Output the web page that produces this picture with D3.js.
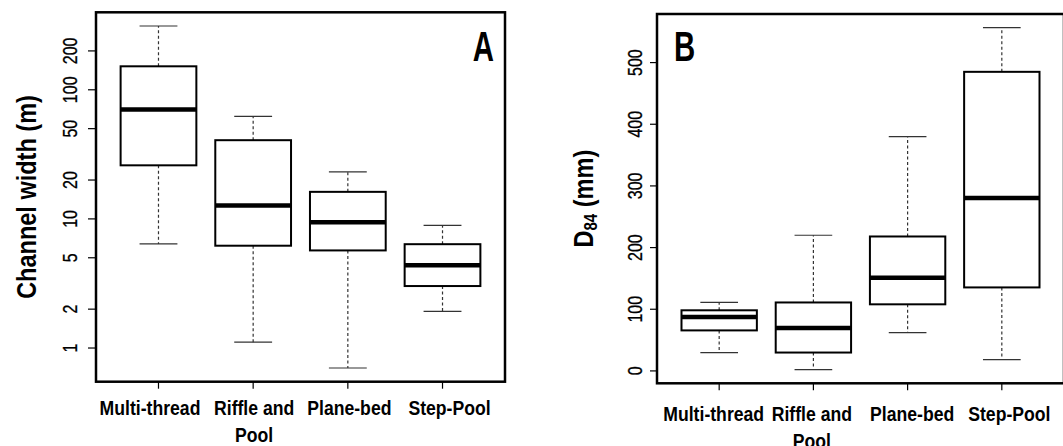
<!DOCTYPE html>
<html lang="en">
<head>
<meta charset="utf-8">
<title>Channel width and D84 by channel type</title>
<script src="https://d3js.org/d3.v7.min.js"></script>
<style>
  body { margin: 0; background: #fff; }
  text { font-family: "Liberation Sans", Arial, sans-serif; fill: #000; }
  .frame { fill: none; stroke: #000; stroke-width: 2.5px; }
  .box { fill: #fff; stroke: #000; stroke-width: 2px; }
  .median { stroke: #000; stroke-width: 4.5px; }
  .whisker { stroke: #333; stroke-width: 1.2px; stroke-dasharray: 3,2.5; }
  .cap { stroke: #333; stroke-width: 1.2px; }
  .tick line { stroke: #000; stroke-width: 1.2px; }
  .ticklab { font-size: 20px; stroke: #000; stroke-width: 0.3px; }
  .catlab { font-size: 21px; font-weight: bold; }
  .ytitle { font-size: 28px; font-weight: bold; }
  .panel { font-size: 42px; font-weight: bold; }
</style>
</head>
<body>
<script>
// categories
var categories = ["Multi-thread", "Riffle and Pool", "Plane-bed", "Step-Pool"];
var categoryLines = [["Multi-thread"], ["Riffle and", "Pool"], ["Plane-bed"], ["Step-Pool"]];

// panel A: channel width (m), log axis
var widthLow  = [6.4, 1.11, 0.70, 1.92];
var widthQ1   = [26, 6.2, 5.7, 3.02];
var widthMed  = [70.5, 12.7, 9.4, 4.37];
var widthQ3   = [152, 40.7, 16.2, 6.37];
var widthHigh = [312, 62.2, 23.1, 8.9];
var widthTicks = [1, 2, 5, 10, 20, 50, 100, 200];

// panel B: D84 (mm)
var d84Low  = [29.8, 2.1, 62, 18.4];
var d84Q1   = [65.7, 29.8, 108, 135.4];
var d84Med  = [87.4, 69.5, 151, 280.5];
var d84Q3   = [98.3, 111, 218, 485];
var d84High = [111, 220, 380, 556.6];
var d84Ticks = [0, 100, 200, 300, 400, 500];

var W = 1063, H = 446;
// the original uses a condensed face; squeeze Liberation Sans to match
var narrow = 0.84;

var svg = d3.select("body").append("svg")
  .attr("width", W)
  .attr("height", H);

function rows(lo, q1, med, q3, hi) {
  return categories.map(function(c, i) {
    return {cat: c, i: i, lo: lo[i], q1: q1[i], med: med[i], q3: q3[i], hi: hi[i]};
  });
}

function drawPanel(opt) {
  var g = svg.append("g");
  var data = rows.apply(null, opt.stats);

  // x like R boxplot: positions 1..n, range extended 4%
  var x = d3.scaleLinear()
    .domain([1 - 0.66, categories.length + 0.66])
    .range([opt.left, opt.right]);
  var half = x(1.4) - x(1), capHalf = half / 2;

  var y;
  if (opt.log) {
    var ext = d3.extent(opt.stats[0].concat(opt.stats[4])).map(Math.log10);
    var pad = (ext[1] - ext[0]) * 0.04;
    y = d3.scaleLog().domain([Math.pow(10, ext[0] - pad), Math.pow(10, ext[1] + pad)]);
  } else {
    var ex = d3.extent(opt.stats[0].concat(opt.stats[4]));
    var p = (ex[1] - ex[0]) * 0.04;
    y = d3.scaleLinear().domain([ex[0] - p, ex[1] + p]);
  }
  y.range([opt.bottom, opt.top]);

  var b = g.selectAll("g.bx").data(data).enter().append("g").attr("class", "bx");
  b.append("line").attr("class", "whisker")
    .attr("x1", d => x(d.i + 1)).attr("x2", d => x(d.i + 1))
    .attr("y1", d => y(d.q3)).attr("y2", d => y(d.hi));
  b.append("line").attr("class", "whisker")
    .attr("x1", d => x(d.i + 1)).attr("x2", d => x(d.i + 1))
    .attr("y1", d => y(d.q1)).attr("y2", d => y(d.lo));
  b.append("line").attr("class", "cap")
    .attr("x1", d => x(d.i + 1) - capHalf).attr("x2", d => x(d.i + 1) + capHalf)
    .attr("y1", d => y(d.hi)).attr("y2", d => y(d.hi));
  b.append("line").attr("class", "cap")
    .attr("x1", d => x(d.i + 1) - capHalf).attr("x2", d => x(d.i + 1) + capHalf)
    .attr("y1", d => y(d.lo)).attr("y2", d => y(d.lo));
  b.append("rect").attr("class", "box")
    .attr("x", d => x(d.i + 1) - half).attr("width", 2 * half)
    .attr("y", d => y(d.q3)).attr("height", d => y(d.q1) - y(d.q3));
  b.append("line").attr("class", "median")
    .attr("x1", d => x(d.i + 1) - half).attr("x2", d => x(d.i + 1) + half)
    .attr("y1", d => y(d.med)).attr("y2", d => y(d.med));

  // frame
  g.append("rect").attr("class", "frame")
    .attr("x", opt.left).attr("y", opt.top)
    .attr("width", opt.right - opt.left).attr("height", opt.bottom - opt.top);

  // y axis ticks
  var yt = g.selectAll("g.ytick").data(opt.ticks).enter().append("g").attr("class", "tick");
  yt.append("line")
    .attr("x1", opt.left - opt.tickLen).attr("x2", opt.left)
    .attr("y1", d => y(d)).attr("y2", d => y(d));
  yt.append("text").attr("class", "ticklab")
    .attr("transform", d => "translate(" + (opt.left - opt.labOff) + "," + y(d) + ") rotate(-90) scale(0.8,1)")
    .attr("text-anchor", "middle")
    .text(d => d);

  // x axis ticks + category labels (labels nudged apart as in the original)
  var xt = g.selectAll("g.xtick").data(categoryLines).enter().append("g").attr("class", "tick");
  xt.append("line")
    .attr("x1", (d, i) => x(i + 1)).attr("x2", (d, i) => x(i + 1))
    .attr("y1", opt.bottom).attr("y2", opt.bottom + 7);
  xt.append("text").attr("class", "catlab")
    .attr("text-anchor", "middle")
    .attr("transform", (d, i) => "translate(" + (x(i + 1) + opt.catShift[i]) + "," + opt.catY + ") scale(" + narrow + ",1)")
    .selectAll("tspan").data(d => d)
    .enter().append("tspan")
    .attr("x", 0)
    .attr("y", (d, k) => k * 27)
    .text(d => d);

  // y title
  var t = g.append("text").attr("class", "ytitle")
    .attr("text-anchor", "middle")
    .attr("transform", "translate(" + opt.titleX + "," + ((opt.top + opt.bottom) / 2) + ") rotate(-90) scale(" + narrow + ",1)");
  opt.title.forEach(function(part) {
    var s = t.append("tspan").text(part.t);
    if (part.sub) s.attr("baseline-shift", "-25%").style("font-size", "18px");
  });

  // panel letter
  g.append("text").attr("class", "panel")
    .attr("transform", "translate(" + opt.letterX + ",61) scale(0.7,1)")
    .attr("text-anchor", opt.letterAnchor)
    .text(opt.letter);
}

drawPanel({
  stats: [widthLow, widthQ1, widthMed, widthQ3, widthHigh],
  ticks: widthTicks, log: true,
  left: 96, right: 505, top: 12.3, bottom: 381.7,
  tickLen: 8, labOff: 19, catY: 415, catShift: [-8.5, 1, 1.5, 7], titleX: 36,
  title: [{t: "Channel width (m)"}],
  letter: "A", letterX: 494, letterAnchor: "end"
});

drawPanel({
  stats: [d84Low, d84Q1, d84Med, d84Q3, d84High],
  ticks: d84Ticks, log: false,
  left: 657, right: 1064, top: 14, bottom: 383.3,
  tickLen: 7, labOff: 15.5, catY: 421, catShift: [-5.5, -1.5, 4.5, 7.5], titleX: 593,
  title: [{t: "D"}, {t: "84", sub: true}, {t: " (mm)"}],
  letter: "B", letterX: 674, letterAnchor: "start"
});
</script>
</body>
</html>
